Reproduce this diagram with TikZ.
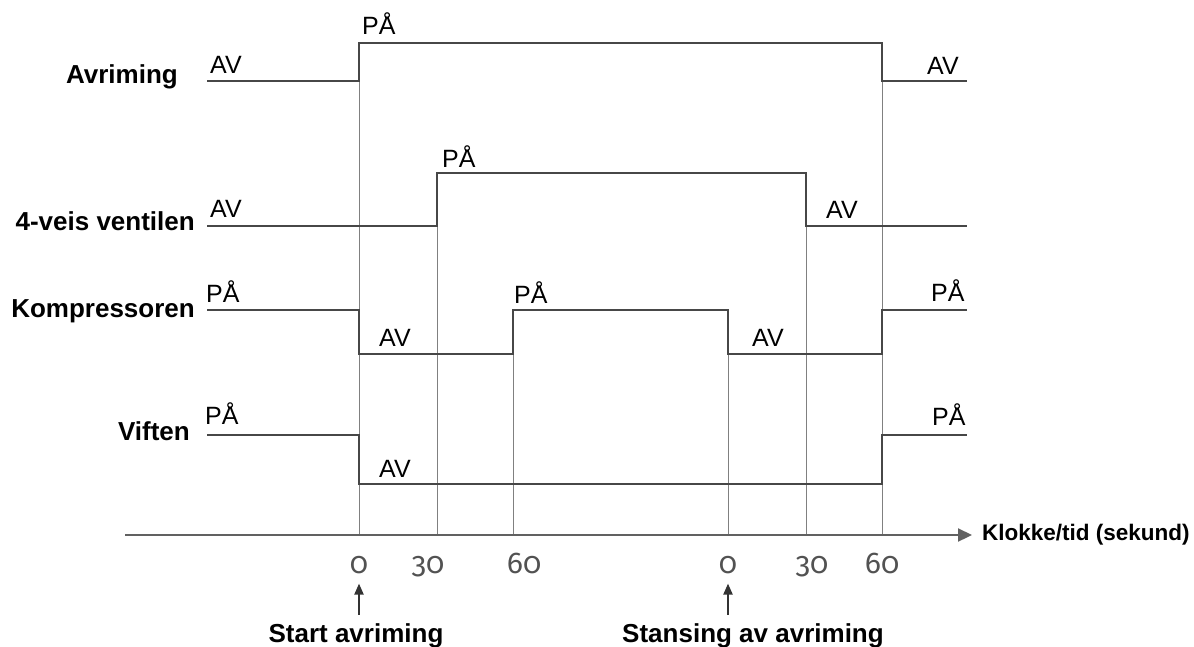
\documentclass[tikz,border=0pt]{standalone}
\usepackage{fontspec}
\setmainfont{Liberation Sans}
\newfontfamily\numfont[Numbers=OldStyle]{Fira Sans}
\usetikzlibrary{arrows.meta, positioning}

\begin{document}
\begin{tikzpicture}[x=1pt, y=-1pt,
        signal/.style={draw=black!72, line width=2.2pt},
        tickline/.style={draw=black!50, line width=1pt},
        axisline/.style={draw=black!62, line width=2.2pt, -{Triangle[length=14pt, width=13pt]}},
        uparrow/.style={draw=black!80, line width=2pt, -{Triangle[length=11pt, width=9pt]}},
        channel/.style={font=\fontsize{26}{28}\selectfont\bfseries, anchor=base east, inner sep=0pt},
        level/.style={font=\fontsize{25}{27}\selectfont, anchor=base west, inner sep=0pt},
        secs/.style={font=\numfont\fontsize{30}{32}\selectfont, text=black!68, anchor=base, inner sep=0pt},
        event/.style={font=\fontsize{26}{28}\selectfont\bfseries, anchor=base, inner sep=0pt}
    ]
    \useasboundingbox (0,0) rectangle (1194,646);

    % channel names
    \node[channel] (avr) at (178,83) {Avriming};
    \node[channel] (ventil) at (195,230) {4-veis ventilen};
    \node[channel] (komp) at (195,317) {Kompressoren};
    \node[channel] (vift) at (190,440) {Viften};

    % thin lines from the time axis up to each switching edge
    \foreach \x/\y in {359/81, 437/226, 513/354, 728/354, 806/226, 882/81}
        \draw[tickline] (\x,535) -- (\x,\y);

    % signal levels
    \draw[signal] (207,81) -- (359,81) -- (359,43) -- (882,43) -- (882,81) -- (967,81);
    \draw[signal] (207,226) -- (437,226) -- (437,173) -- (806,173) -- (806,226) -- (967,226);
    \draw[signal] (207,310) -- (359,310) -- (359,354) -- (513,354) -- (513,310) -- (728,310)
        -- (728,354) -- (882,354) -- (882,310) -- (967,310);
    \draw[signal] (207,435) -- (359,435) -- (359,484) -- (882,484) -- (882,435) -- (967,435);

    % state labels
    \node[level] (avr1) at (210,73) {AV};
    \node[level] (avr2) at (362,34) {PÅ};
    \node[level] (avr3) at (927,74) {AV};
    \node[level] (ventil1) at (210,217) {AV};
    \node[level] (ventil2) at (442,167) {PÅ};
    \node[level] (ventil3) at (826,218) {AV};
    \node[level] (komp1) at (206,302) {PÅ};
    \node[level] (komp2) at (379,346) {AV};
    \node[level] (komp3) at (514,303) {PÅ};
    \node[level] (komp4) at (752,346) {AV};
    \node[level] (komp5) at (931,301) {PÅ};
    \node[level] (vift1) at (205,424) {PÅ};
    \node[level] (vift2) at (379,477) {AV};
    \node[level] (vift3) at (932,425) {PÅ};

    % time axis
    \coordinate (axisstart) at (125,535);
    \node[anchor=west, inner sep=0pt, font=\fontsize{22.5}{25}\selectfont\bfseries] (tid) at (982,535) {Klokke/tid (sekund)};
    \draw[axisline, shorten >=10pt] (axisstart) -- (tid.west);

    % seconds
    \node[secs] (s0a) at (359,573) {0};
    \node[secs] (s30a) at (428,573) {30};
    \node[secs] (s60a) at (524,573) {60};
    \node[secs] (s0b) at (728,573) {0};
    \node[secs] (s30b) at (812,573) {30};
    \node[secs] (s60b) at (882,573) {60};

    % events
    \node[event] (start) at (356,642) {Start avriming};
    \node[event] (stopp) at (753,642) {Stansing av avriming};
    \draw[uparrow, shorten <=8pt, shorten >=10pt] (start.north -| s0a) -- (s0a.south);
    \draw[uparrow, shorten <=8pt, shorten >=10pt] (stopp.north -| s0b) -- (s0b.south);
\end{tikzpicture}
\end{document}
